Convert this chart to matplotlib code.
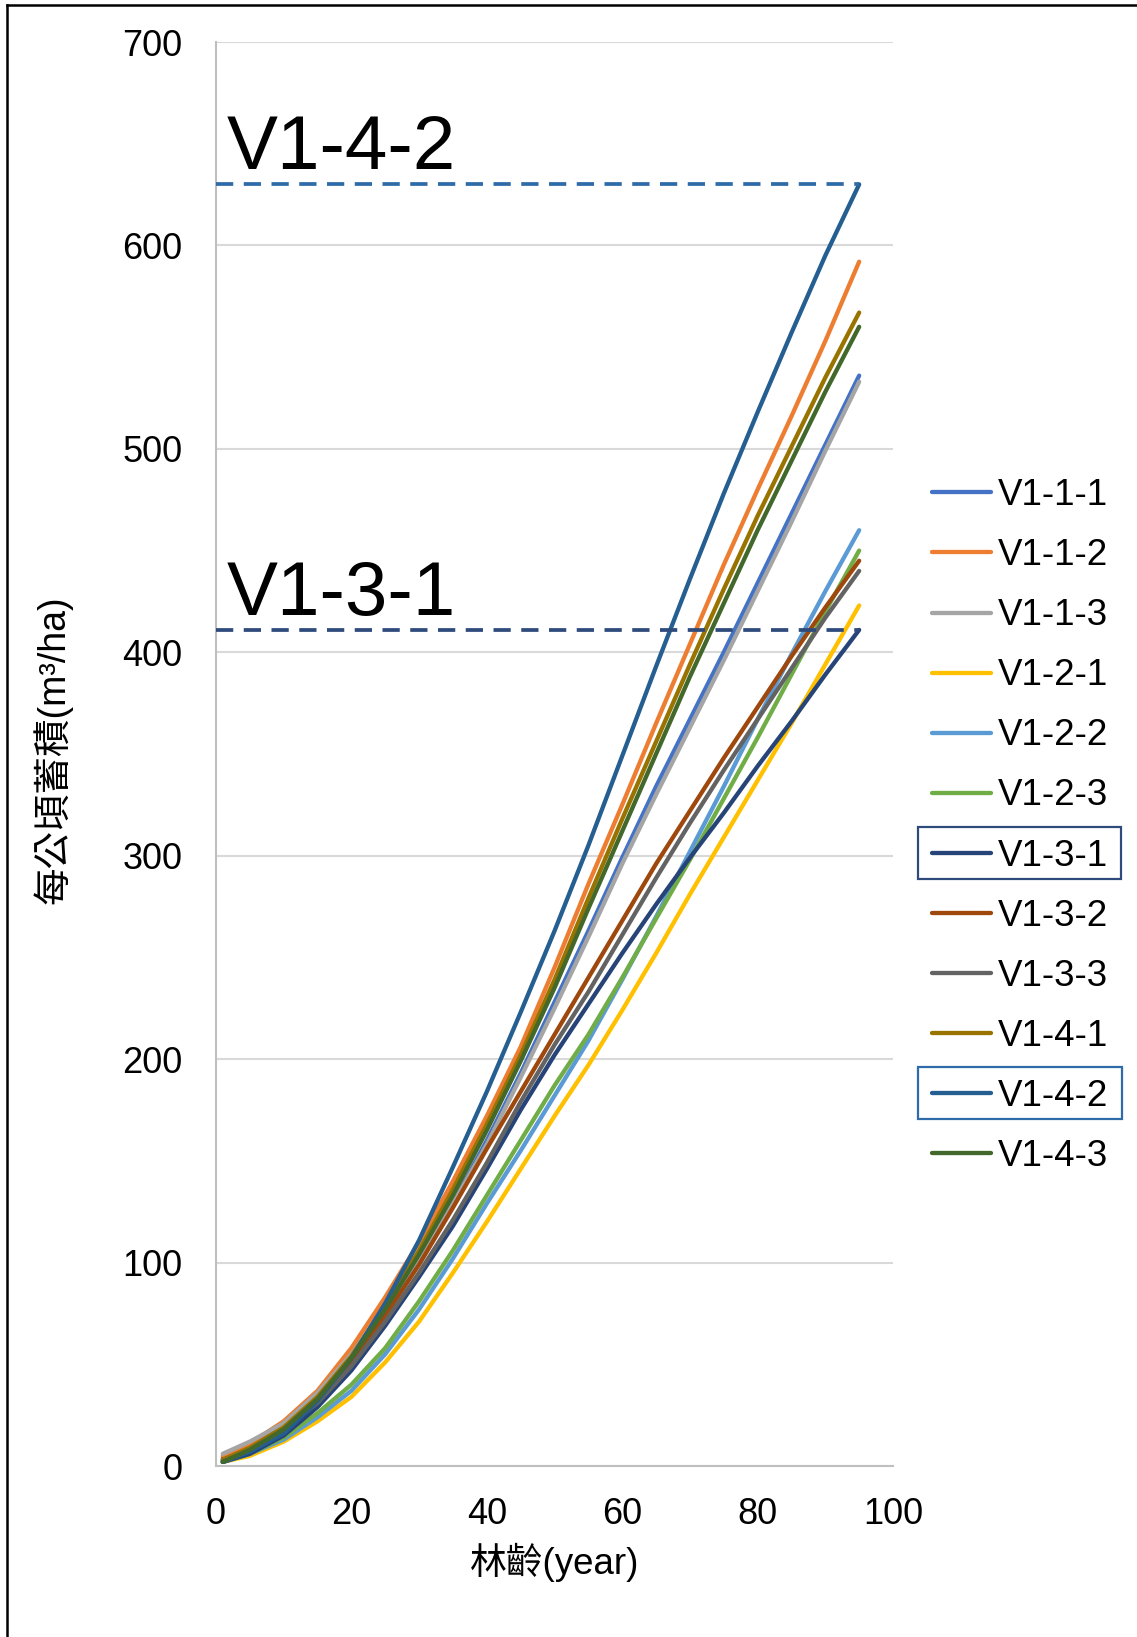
import matplotlib
matplotlib.use('Agg')
import matplotlib.pyplot as plt
from matplotlib.lines import Line2D
from matplotlib.patches import Rectangle

plt.rcParams['font.family'] = ['Liberation Sans', 'Noto Sans CJK TC', 'DejaVu Sans']

# 林齡 (year)
ages = [1, 5, 10, 15, 20, 25, 30, 35, 40, 45, 50, 55, 60, 65, 70, 75, 80, 85, 90, 95]

# 每公頃蓄積 (m3/ha)
v1_1_1 = [4, 10, 20, 34, 54, 77, 101, 129, 160, 193, 228, 263, 299, 334, 367, 400, 434, 468, 502, 536]
v1_1_2 = [5, 11, 22, 37, 58, 83, 110, 140, 172, 206, 245, 286, 325, 365, 404, 443, 480, 516, 553, 592]
v1_1_3 = [6, 12, 21, 36, 55, 78, 102, 129, 158, 191, 225, 260, 296, 330, 363, 396, 430, 464, 499, 533]
v1_2_1 = [2, 5, 12, 22, 34, 51, 71, 95, 120, 146, 172, 197, 224, 252, 281, 309, 337, 365, 394, 423]
v1_2_2 = [2, 6, 13, 24, 37, 55, 77, 102, 129, 155, 182, 209, 239, 270, 302, 334, 367, 399, 430, 460]
v1_2_3 = [2, 6, 14, 26, 40, 58, 81, 106, 133, 160, 187, 212, 240, 269, 298, 328, 358, 389, 420, 450]
v1_3_1 = [2, 6, 15, 29, 47, 69, 93, 118, 146, 175, 202, 227, 252, 276, 299, 321, 344, 366, 389, 411]
v1_3_2 = [3, 8, 18, 32, 51, 74, 99, 127, 156, 184, 212, 240, 268, 296, 322, 348, 373, 398, 422, 445]
v1_3_3 = [3, 8, 18, 31, 49, 71, 95, 121, 149, 179, 207, 233, 261, 289, 316, 342, 367, 392, 417, 440]
v1_4_1 = [3, 9, 19, 34, 54, 79, 106, 136, 168, 202, 239, 279, 318, 356, 394, 431, 467, 501, 535, 567]
v1_4_2 = [2, 7, 16, 32, 53, 80, 111, 147, 184, 223, 263, 305, 349, 393, 436, 478, 518, 557, 595, 630]
v1_4_3 = [2, 8, 18, 33, 53, 77, 104, 133, 165, 199, 235, 274, 312, 350, 388, 424, 460, 494, 528, 560]

names = ['V1-1-1', 'V1-1-2', 'V1-1-3', 'V1-2-1', 'V1-2-2', 'V1-2-3',
         'V1-3-1', 'V1-3-2', 'V1-3-3', 'V1-4-1', 'V1-4-2', 'V1-4-3']
series = [v1_1_1, v1_1_2, v1_1_3, v1_2_1, v1_2_2, v1_2_3,
          v1_3_1, v1_3_2, v1_3_3, v1_4_1, v1_4_2, v1_4_3]
colors = ['#4472C4', '#ED7D31', '#A5A5A5', '#FFC000', '#5B9BD5', '#70AD47',
          '#264478', '#9E480E', '#636363', '#997300', '#255E91', '#43682B']

# 標示的兩個系列
highlight = {'V1-3-1': '#2F4B7C', 'V1-4-2': '#2E6BA8'}

fig = plt.figure(figsize=(11.37, 16.37), dpi=100)
ax = fig.add_axes([216/1137, 1 - 1466/1637, 677/1137, 1424/1637])

for name, vals, c in zip(names, series, colors):
    ax.plot(ages, vals, color=c, lw=3.1, label=name, solid_capstyle='round',
            solid_joinstyle='round', zorder=3)

# 上限虛線
for name in highlight:
    vals = series[names.index(name)]
    ax.plot([0, ages[-1]], [vals[-1], vals[-1]], color=highlight[name], lw=2.7,
            dashes=(4.6, 2.8), zorder=4)
    ax.text(1.6, vals[-1] + 7.5, name, fontsize=55, ha='left', va='baseline', zorder=5)

ax.set_xlim(0, 100)
ax.set_ylim(0, 700)
ax.set_xticks(range(0, 101, 20))
ax.set_yticks(range(0, 701, 100))
ax.grid(axis='y', color='#D9D9D9', lw=1.5)
ax.set_axisbelow(True)
for s in ['top', 'right']:
    ax.spines[s].set_visible(False)
for s in ['left', 'bottom']:
    ax.spines[s].set_color('#BFBFBF')
    ax.spines[s].set_linewidth(1.5)
ax.tick_params(length=0, labelsize=26, pad=0)
ax.tick_params(axis='y', pad=24)
ax.tick_params(axis='x', pad=22)

ax.set_xlabel('林齡(year)', fontsize=26.5)
ax.xaxis.set_label_coords(0.5, -0.068)
ax.xaxis.label.set_va('center')
ax.set_ylabel('每公頃蓄積(m³/ha)', fontsize=27)
ax.yaxis.set_label_coords(-0.242, 0.503)
ax.yaxis.label.set_va('center')

leg = ax.legend(loc='center left', bbox_to_anchor=(932/1137, 1 - 826/1637),
                bbox_transform=fig.transFigure, frameon=False, fontsize=26.5,
                handlelength=1.6, handletextpad=0.2, labelspacing=0.68,
                borderpad=0, borderaxespad=0)

# 外框
fig.add_artist(Line2D([7/1137, 1], [1 - 5/1637, 1 - 5/1637], transform=fig.transFigure,
                      color='black', lw=1.8))
fig.add_artist(Line2D([7/1137, 7/1137], [0, 1 - 5/1637], transform=fig.transFigure,
                      color='black', lw=1.8))

# 圖例方框
fig.canvas.draw()
renderer = fig.canvas.get_renderer()
inv = fig.transFigure.inverted()
for line, txt in zip(leg.get_lines(), leg.get_texts()):
    name = txt.get_text()
    if name not in highlight:
        continue
    lb = line.get_window_extent(renderer)
    tb = txt.get_window_extent(renderer)
    yc = (lb.y0 + lb.y1) / 2
    x0, y0 = inv.transform((lb.x0 - 14, yc - 26))
    x1, y1 = inv.transform((tb.x1 + 13, yc + 26))
    fig.add_artist(Rectangle((x0, y0), x1 - x0, y1 - y0, transform=fig.transFigure,
                             fill=False, edgecolor=highlight[name], lw=1.6))

fig.savefig('out.png', dpi=100)
